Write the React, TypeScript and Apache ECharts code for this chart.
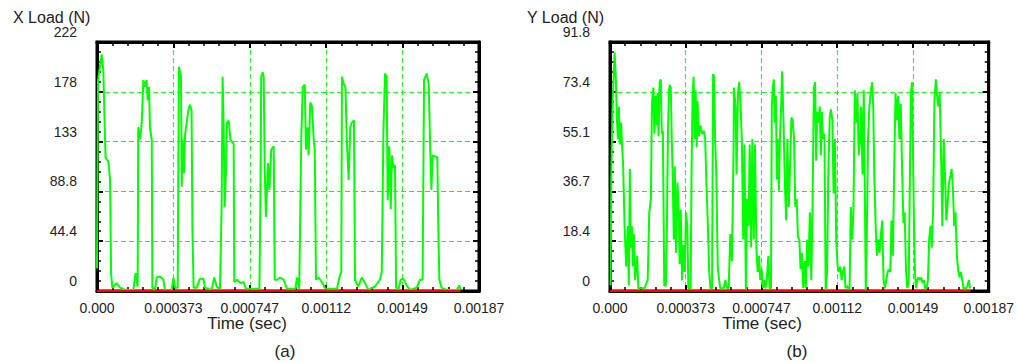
import React, { useEffect, useRef } from "react";
import * as echarts from "echarts";

// Tick labels
const timeTickLabels = ["0.000", "0.000373", "0.000747", "0.00112", "0.00149", "0.00187"];
const xLoadTickLabels = ["0", "44.4", "88.8", "133", "178", "222"];
const yLoadTickLabels = ["0", "18.4", "36.7", "55.1", "73.4", "91.8"];

// Axis ranges (time in microseconds)
const timeMaxUs = 1870;
const xLoadMax = 222;
const yLoadMax = 91.8;

// Panel (a): X load samples [time (µs), load (N)]
const xLoadSamples: [number, number][] = [
  [0, 20], [5, 188], [23, 211], [31, 197], [36, 159], [42, 119], [56, 115], [64, 99], [69, 16], [75, 3],
  [96, 7], [113, 3], [137, 1], [178, 1], [189, 16], [199, 4], [202, 146], [211, 135], [219, 150], [227, 188],
  [235, 182], [243, 188], [248, 170], [255, 182], [259, 146], [268, 135], [271, 3], [284, 1], [292, 12], [308, 13],
  [325, 10], [333, 1], [366, 1], [374, 12], [382, 3], [395, 3], [401, 200], [411, 191], [415, 93], [419, 135],
  [426, 105], [431, 139], [439, 150], [447, 161], [455, 166], [463, 161], [467, 57], [473, 3], [488, 3], [504, 11],
  [521, 11], [529, 3], [561, 1], [574, 12], [586, 4], [602, 1], [610, 75], [615, 191], [620, 146], [625, 75],
  [632, 110], [636, 150], [645, 152], [653, 135], [669, 131], [672, 8], [685, 10], [702, 7], [718, 8], [729, 2],
  [775, 2], [795, 2], [800, 81], [804, 191], [811, 195], [816, 191], [821, 111], [827, 66], [837, 114], [844, 90],
  [853, 126], [865, 129], [870, 10], [881, 10], [897, 12], [914, 10], [930, 2], [971, 2], [979, 12], [990, 2],
  [1000, 135], [1007, 182], [1017, 184], [1023, 126], [1030, 146], [1036, 121], [1044, 168], [1052, 165], [1061, 135], [1066, 126],
  [1072, 10], [1085, 12], [1101, 8], [1118, 2], [1175, 2], [1186, 12], [1196, 17], [1199, 191], [1207, 185], [1216, 182],
  [1224, 129], [1232, 99], [1240, 146], [1247, 150], [1258, 152], [1263, 10], [1279, 4], [1296, 12], [1312, 7], [1328, 1],
  [1361, 4], [1385, 10], [1394, 17], [1402, 141], [1410, 194], [1418, 191], [1423, 81], [1431, 129], [1438, 73], [1444, 121],
  [1451, 110], [1459, 112], [1464, 3], [1475, 1], [1487, 10], [1500, 11], [1516, 5], [1532, 1], [1565, 3], [1581, 10],
  [1594, 10], [1601, 188], [1614, 194], [1624, 184], [1630, 135], [1637, 90], [1643, 121], [1666, 119], [1671, 54], [1676, 10],
  [1687, 3], [1712, 1], [1761, 1], [1774, 5], [1780, 1],
];

// Panel (b): Y load samples [time (µs), load (N)]
const yLoadSamples: [number, number][] = [
  [3, 2], [6.5, 43], [13, 70], [23, 88], [29, 78], [34, 64], [39, 56], [44, 68], [49, 54], [55, 62],
  [60, 53], [65, 46], [72, 24], [80, 9], [88, 24], [93, 2], [98, 45], [103, 16], [108, 24], [113, 9],
  [118, 21], [124, 4], [134, 13], [140, 1], [153, 1], [170, 1], [186, 4], [194, 29], [202, 34], [207, 69],
  [214, 75], [219, 58], [224, 72], [228, 61], [235, 73], [240, 57], [245, 77], [251, 78], [256, 58], [261, 59],
  [268, 2], [276, 2], [281, 24], [286, 58], [291, 74], [295, 76], [300, 75], [305, 56], [310, 41], [315, 19],
  [320, 46], [326, 14], [333, 40], [339, 29], [344, 10], [349, 30], [356, 4], [362, 17], [369, 7], [375, 29],
  [382, 24], [387, 1], [398, 1], [403, 46], [408, 73], [413, 79], [418, 56], [423, 74], [428, 53], [432, 70],
  [439, 57], [447, 61], [455, 58], [463, 59], [470, 56], [476, 40], [483, 25], [490, 7], [496, 1], [504, 1],
  [509, 80], [514, 79], [519, 56], [525, 43], [532, 9], [539, 4], [545, 1], [561, 1], [570, 4], [578, 1],
  [586, 1], [594, 21], [602, 11], [610, 50], [612, 75], [620, 68], [625, 43], [632, 73], [638, 77], [645, 68],
  [651, 56], [658, 19], [664, 54], [671, 0], [677, 34], [684, 24], [690, 54], [697, 16], [703, 56], [710, 19],
  [716, 54], [723, 16], [729, 7], [736, 13], [742, 4], [749, 8], [755, 1], [762, 4], [768, 1], [775, 5],
  [782, 13], [788, 1], [795, 1], [799, 68], [804, 75], [809, 78], [814, 62], [819, 72], [824, 41], [829, 56],
  [834, 37], [839, 56], [845, 68], [850, 81], [857, 62], [863, 41], [870, 26], [876, 56], [883, 31], [889, 46],
  [896, 64], [902, 63], [909, 56], [915, 31], [922, 34], [928, 20], [935, 19], [941, 8], [948, 14], [954, 1],
  [961, 11], [967, 1], [974, 19], [980, 9], [987, 29], [994, 4], [1000, 31], [1007, 75], [1013, 77], [1018, 48],
  [1023, 66], [1029, 62], [1036, 68], [1041, 50], [1046, 66], [1052, 56], [1059, 58], [1065, 0], [1072, 7], [1078, 43],
  [1085, 64], [1091, 67], [1098, 63], [1104, 36], [1111, 56], [1117, 19], [1124, 9], [1130, 7], [1137, 9], [1144, 4],
  [1150, 7], [1157, 9], [1163, 1], [1170, 2], [1176, 1], [1183, 1], [1189, 31], [1196, 19], [1202, 29], [1209, 74],
  [1215, 62], [1222, 73], [1228, 50], [1235, 56], [1240, 68], [1247, 43], [1253, 74], [1258, 40], [1263, 0], [1268, 19],
  [1274, 56], [1281, 68], [1287, 73], [1294, 77], [1300, 68], [1305, 43], [1312, 24], [1318, 13], [1325, 19], [1331, 14],
  [1338, 21], [1344, 26], [1351, 4], [1358, 1], [1364, 4], [1371, 7], [1377, 8], [1384, 7], [1390, 26], [1397, 13],
  [1403, 43], [1410, 73], [1416, 63], [1423, 72], [1429, 56], [1436, 69], [1442, 46], [1449, 25], [1455, 29], [1462, 7],
  [1468, 1], [1475, 3], [1481, 43], [1486, 72], [1491, 77], [1496, 52], [1501, 25], [1506, 7], [1511, 1], [1517, 4],
  [1524, 5], [1530, 4], [1537, 5], [1543, 3], [1550, 4], [1556, 1], [1563, 1], [1570, 4], [1576, 19], [1583, 24],
  [1589, 16], [1596, 31], [1602, 70], [1609, 78], [1615, 72], [1622, 68], [1628, 73], [1635, 50], [1641, 24], [1648, 56],
  [1654, 43], [1661, 26], [1667, 32], [1674, 40], [1680, 42], [1687, 45], [1693, 38], [1700, 24], [1706, 29], [1713, 13],
  [1719, 8], [1726, 5], [1733, 7], [1739, 4], [1746, 1], [1752, 1], [1759, 1], [1765, 2], [1772, 4], [1778, 1],
];

// Red reference line at zero load
const zeroLineSamples: [number, number][] = [[0, 0], [1780, 0]];

const FONT = "Liberation Sans";
const TEXT = "#222222";
const GREEN = "#00ff00";
const GRID_GREEN = "#22ee22";

function makeX(gridIndex: number, top: boolean) {
  return {
    gridIndex,
    type: "value",
    position: top ? "top" : "bottom",
    min: 0,
    max: timeMaxUs,
    interval: timeMaxUs / 5,
    axisLine: { show: true, onZero: false, lineStyle: { color: "#000000", width: 3 } },
    axisTick: { show: true, inside: true, length: 6, lineStyle: { color: "#000000", width: 2 } },
    minorTick: { show: true, splitNumber: 5, length: 4, lineStyle: { color: "#000000", width: 1.5 } },
    axisLabel: top
      ? { show: false }
      : {
          show: true,
          margin: 10,
          fontSize: 14,
          fontFamily: FONT,
          color: TEXT,
          formatter: (v: number) => timeTickLabels[Math.round(v / (timeMaxUs / 5))] ?? "",
        },
    splitLine: top
      ? { show: false }
      : { show: true, lineStyle: { color: GRID_GREEN, width: 1, type: [5, 3] } },
  };
}

function makeY(gridIndex: number, right: boolean, max: number, labels: string[]) {
  return {
    gridIndex,
    type: "value",
    position: right ? "right" : "left",
    min: 0,
    max,
    interval: max / 5,
    axisLine: { show: true, onZero: false, lineStyle: { color: "#000000", width: 3 } },
    axisTick: { show: true, inside: true, length: 6, lineStyle: { color: "#000000", width: 2 } },
    minorTick: { show: true, splitNumber: 5, length: 4, lineStyle: { color: "#000000", width: 1.5 } },
    axisLabel: right
      ? { show: false }
      : {
          show: true,
          margin: 20,
          fontSize: 14,
          fontFamily: FONT,
          color: TEXT,
          verticalAlign: "bottom",
          padding: [0, 0, 3, 0],
          formatter: (v: number) => labels[Math.round(v / (max / 5))] ?? "",
        },
    splitLine: right
      ? { show: false }
      : { show: true, lineStyle: { color: GRID_GREEN, width: 1, type: [5, 3] } },
  };
}

function title(text: string, left: number, top: number, align: string, size = 17) {
  return {
    text,
    left,
    top,
    textAlign: align,
    padding: 0,
    textStyle: { fontSize: size, fontWeight: "normal", fontFamily: FONT, color: TEXT },
  };
}

export default function App() {
  const ref = useRef<HTMLDivElement>(null);
  useEffect(() => {
    if (!ref.current) return;
    const chart = echarts.init(ref.current, undefined, { renderer: "svg" });
    chart.setOption({
      animation: false,
      title: [
        title("X Load (N)", 13, 9, "left", 16),
        title("Y Load (N)", 527, 9, "left", 16),
        title("Time (sec)", 247, 315, "center"),
        title("Time (sec)", 762, 315, "center"),
        title("(a)", 285, 343, "center"),
        title("(b)", 797, 343, "center"),
      ],
      grid: [
        { left: 97, top: 42, width: 382, height: 249, show: true, borderColor: "#000000", borderWidth: 3 },
        { left: 610, top: 42, width: 382, height: 249, show: true, borderColor: "#000000", borderWidth: 3 },
      ],
      xAxis: [makeX(0, false), makeX(1, false), makeX(0, true), makeX(1, true)],
      yAxis: [
        makeY(0, false, xLoadMax, xLoadTickLabels),
        makeY(1, false, yLoadMax, yLoadTickLabels),
        makeY(0, true, xLoadMax, xLoadTickLabels),
        makeY(1, true, yLoadMax, yLoadTickLabels),
      ],
      series: [
        { type: "line", xAxisIndex: 0, yAxisIndex: 0, data: xLoadSamples, showSymbol: false, lineStyle: { color: GREEN, width: 2 } },
        { type: "line", xAxisIndex: 0, yAxisIndex: 0, data: zeroLineSamples, showSymbol: false, lineStyle: { color: "#ff0000", width: 2 } },
        { type: "line", xAxisIndex: 1, yAxisIndex: 1, data: yLoadSamples, showSymbol: false, lineStyle: { color: GREEN, width: 2 } },
        { type: "line", xAxisIndex: 1, yAxisIndex: 1, data: zeroLineSamples, showSymbol: false, lineStyle: { color: "#ff0000", width: 2 } },
      ],
    });
    return () => chart.dispose();
  }, []);
  return <div ref={ref} style={{ position: "absolute", left: 0, top: 0, width: 1017, height: 363 }} />;
}
